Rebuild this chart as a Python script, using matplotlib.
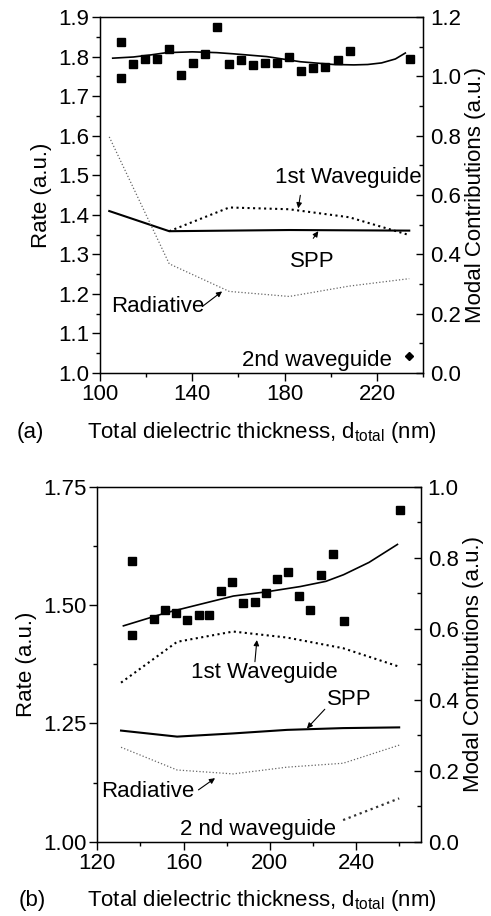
import matplotlib
matplotlib.use("Agg")
import matplotlib.pyplot as plt
from matplotlib.ticker import MultipleLocator

plt.rcParams['font.family'] = ['Liberation Sans', 'DejaVu Sans']
plt.rcParams['mathtext.fontset'] = 'custom'
plt.rcParams['mathtext.rm'] = 'Liberation Sans'
plt.rcParams['font.size'] = 16

# ---- panel (a) data ----
a_rate_x = [109.1, 109.1, 114.4, 119.7, 124.9, 130.1, 135.3, 140.5, 145.7, 150.9, 156.1,
            161.3, 166.5, 171.6, 176.9, 182.1, 187.3, 192.5, 197.7, 203.0, 208.2, 234.2]
a_rate_y = [1.836, 1.747, 1.782, 1.794, 1.794, 1.820, 1.753, 1.784, 1.807, 1.875, 1.782,
            1.791, 1.779, 1.783, 1.785, 1.798, 1.763, 1.770, 1.773, 1.791, 1.815, 1.794]
a_fit_x = [105.5, 114.5, 121.7, 128.9, 140.0, 150.6, 157.8, 172.3, 186.8, 201.2, 210.0,
           216.0, 222.0, 228.0, 232.3]
a_fit_y = [1.796, 1.799, 1.804, 1.810, 1.812, 1.810, 1.807, 1.800, 1.787, 1.780, 1.779,
           1.780, 1.784, 1.794, 1.809]
a_mode_x = [104, 130, 156, 182, 208, 234]
a_spp = [0.546, 0.478, 0.480, 0.482, 0.481, 0.480]
a_wg1_x = [130, 156, 182, 208, 234]
a_wg1 = [0.478, 0.558, 0.552, 0.525, 0.465]
a_rad = [0.796, 0.368, 0.275, 0.258, 0.293, 0.318]
a_wg2_x = [234]
a_wg2 = [0.058]

# ---- panel (b) data ----
b_rate_x = [136.0, 136.0, 146.3, 151.3, 156.5, 161.8, 167.1, 172.0, 177.3, 182.5, 187.5,
            193.0, 198.3, 203.2, 208.5, 213.5, 218.7, 223.9, 229.2, 234.5, 260.5]
b_rate_y = [1.594, 1.437, 1.471, 1.490, 1.483, 1.468, 1.478, 1.478, 1.530, 1.549, 1.504,
            1.507, 1.526, 1.556, 1.569, 1.518, 1.490, 1.564, 1.607, 1.467, 1.701]
b_fit_x = [132.1, 152.2, 183.1, 198.6, 214.1, 226.0, 234.2, 246.0, 259.2]
b_fit_y = [1.456, 1.484, 1.519, 1.528, 1.539, 1.550, 1.564, 1.590, 1.628]
b_mode_x = [131, 157, 183, 208, 234, 260]
b_spp = [0.313, 0.296, 0.305, 0.315, 0.320, 0.322]
b_wg1 = [0.448, 0.563, 0.592, 0.575, 0.545, 0.493]
b_rad = [0.266, 0.202, 0.191, 0.210, 0.221, 0.272]
b_wg2_x = [234, 260]
b_wg2 = [0.061, 0.122]

fig = plt.figure(figsize=(4.91, 9.16), dpi=100)


def setup(ax, ax2, xlim, ylim, ymaj, ymin, rlim, fmt):
    ax.set_xlim(*xlim)
    ax.set_ylim(*ylim)
    ax2.set_ylim(*rlim)
    ax.xaxis.set_major_locator(MultipleLocator(40, offset=xlim[0] % 40))
    ax.xaxis.set_minor_locator(MultipleLocator(20))
    ax.yaxis.set_major_locator(MultipleLocator(ymaj))
    ax.yaxis.set_minor_locator(MultipleLocator(ymin))
    ax.yaxis.set_major_formatter(plt.FormatStrFormatter(fmt))
    ax2.yaxis.set_major_locator(MultipleLocator(0.2))
    ax2.yaxis.set_minor_locator(MultipleLocator(0.1))
    ax2.yaxis.set_major_formatter(plt.FormatStrFormatter('%.1f'))
    ax.tick_params(axis='both', which='major', direction='out', length=6, width=1, pad=2)
    ax.tick_params(axis='both', which='minor', direction='out', length=3, width=1)
    ax.tick_params(top=False, which='both')
    ax2.tick_params(axis='y', which='major', direction='in', length=5, width=1, pad=5)
    ax2.tick_params(axis='y', which='minor', direction='in', length=3, width=1)
    for s in ax.spines.values():
        s.set_linewidth(1.0)
    ax.set_ylabel('Rate (a.u.)', labelpad=4)
    ax2.set_ylabel('Modal Contributions (a.u.)', labelpad=3)


def arrow(ax, tail, head):
    ax.annotate('', xy=head, xytext=tail,
                arrowprops=dict(arrowstyle='-|>', lw=0.8, color='black',
                                mutation_scale=8, shrinkA=0, shrinkB=0))


# ---------------- panel (a) ----------------
ax = fig.add_axes([0.2037, 0.5928, 0.658, 0.3886])
ax2 = ax.twinx()
setup(ax, ax2, (100, 240), (1.0, 1.9), 0.1, 0.05, (0, 1.2), '%.1f')

ax.plot(a_rate_x, a_rate_y, 's', color='black', ms=5.5)
ax.plot(a_fit_x, a_fit_y, '-', color='black', lw=1.2)
ax2.plot(a_mode_x, a_spp, '-', color='black', lw=1.5)
ax2.plot(a_wg1_x, a_wg1, ':', color='black', lw=1.5)
ax2.plot(a_mode_x, a_rad, ':', color='#666666', lw=0.9)
ax2.plot(a_wg2_x, a_wg2, 'D', color='black', ms=4)

ax2.text(207.4, 0.641, '1st Waveguide', ha='center', va='baseline')
arrow(ax2, (186.8, 0.599), (185.9, 0.555))
ax2.text(191.8, 0.357, 'SPP', ha='center', va='baseline')
arrow(ax2, (192.4, 0.454), (194.6, 0.478))
ax2.text(124.9, 0.205, 'Radiative', ha='center', va='baseline')
arrow(ax2, (144.3, 0.224), (152.9, 0.275))
ax2.text(226.5, 0.025, '2nd waveguide', ha='right', va='baseline')

fig.text(30 / 491, 1 - 438 / 916, '(a)', ha='center', va='baseline')
fig.text(262 / 491, 1 - 438 / 916, r'Total dielectric thickness, d$_{\mathregular{total}}$ (nm)',
         ha='center', va='baseline')

# ---------------- panel (b) ----------------
bx = fig.add_axes([0.1982, 0.0811, 0.6587, 0.3876])
bx2 = bx.twinx()
setup(bx, bx2, (120, 270), (1.0, 1.75), 0.25, 0.125, (0, 1.0), '%.2f')

bx.plot(b_rate_x, b_rate_y, 's', color='black', ms=5.5)
bx.plot(b_fit_x, b_fit_y, '-', color='black', lw=1.2)
bx2.plot(b_mode_x, b_spp, '-', color='black', lw=1.5)
bx2.plot(b_mode_x, b_wg1, ':', color='black', lw=1.5)
bx2.plot(b_mode_x, b_rad, ':', color='#666666', lw=0.9)
bx2.plot(b_wg2_x, b_wg2, ':', color='#333333', lw=1.6)

bx2.text(197.4, 0.461, '1st Waveguide', ha='center', va='baseline')
arrow(bx2, (193.1, 0.507), (194.0, 0.568))
bx2.text(236.9, 0.385, 'SPP', ha='center', va='baseline')
arrow(bx2, (225.5, 0.373), (217.2, 0.319))
bx2.text(143.3, 0.127, 'Radiative', ha='center', va='baseline')
arrow(bx2, (166.9, 0.146), (174.6, 0.179))
bx2.text(194.3, 0.019, '2 nd waveguide', ha='center', va='baseline')

fig.text(32 / 491, 1 - 906 / 916, '(b)', ha='center', va='baseline')
fig.text(262 / 491, 1 - 906 / 916, r'Total dielectric thickness, d$_{\mathregular{total}}$ (nm)',
         ha='center', va='baseline')

fig.savefig('out.png', dpi=100)
